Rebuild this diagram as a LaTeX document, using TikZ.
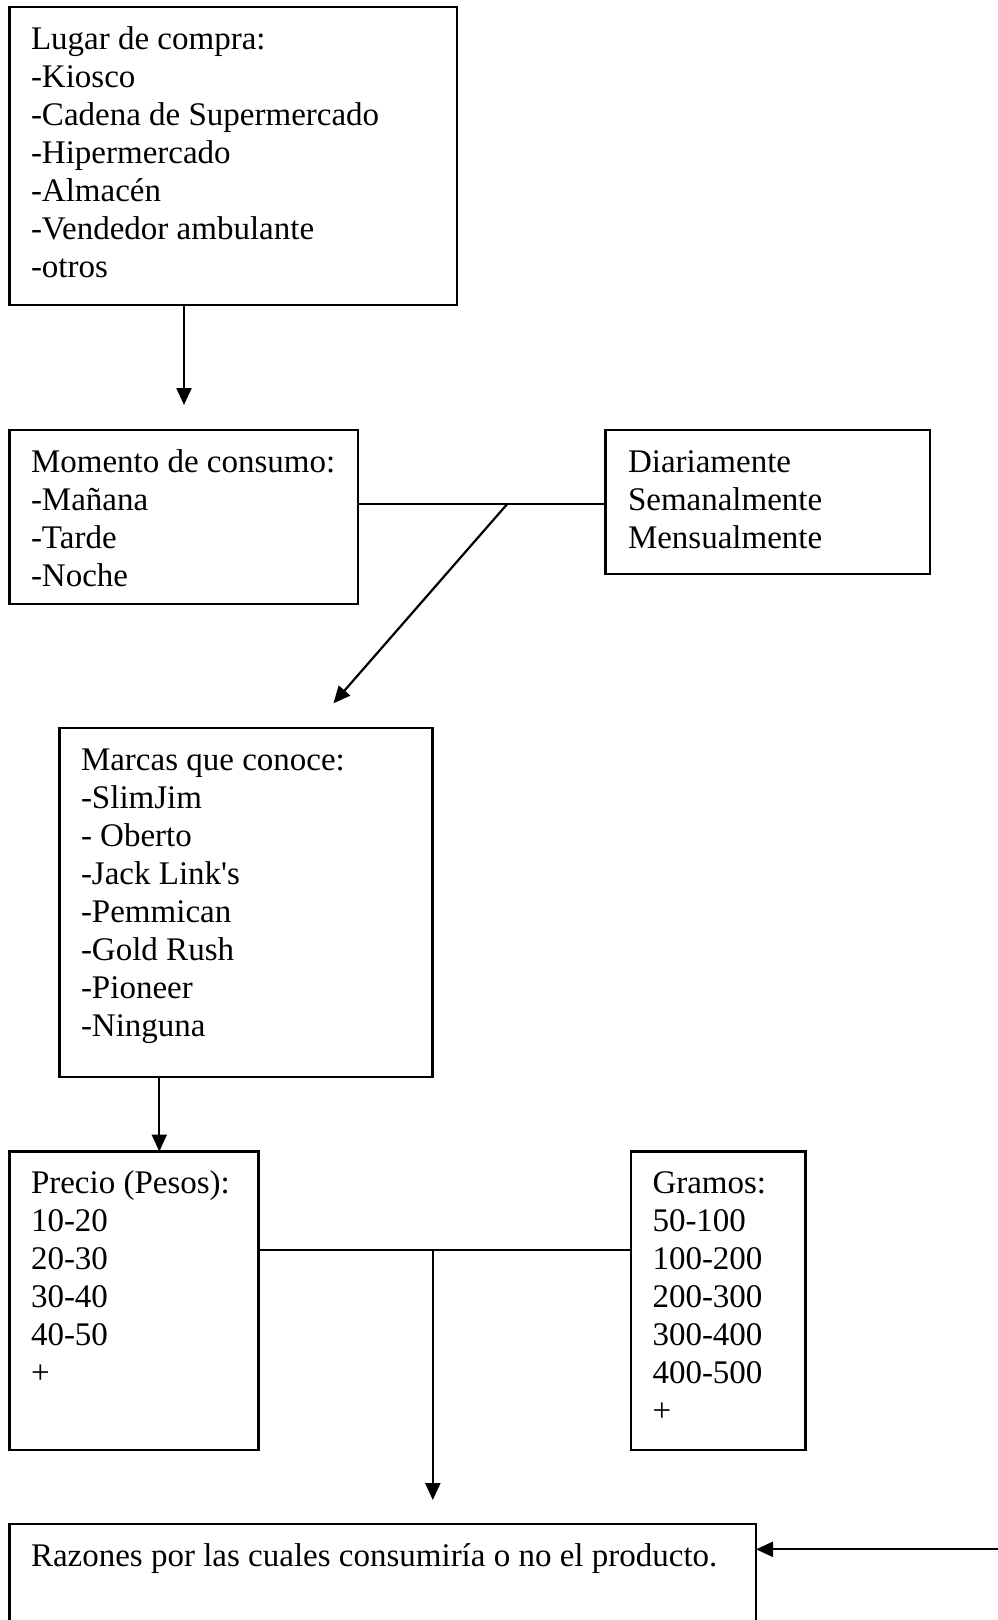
\documentclass[tikz,border=0pt]{standalone}
\usepackage{fontspec}
\setmainfont{Liberation Serif}
\usetikzlibrary{arrows.meta}
\begin{document}
\begin{tikzpicture}[x=1pt,y=-1pt,
  boxnode/.style={draw, line width=2.2pt, rectangle, inner sep=0pt, outer sep=0pt, anchor=north west},
  txt/.style={anchor=base west, inner sep=0pt, outer sep=0pt, font=\fontsize{33}{38}\selectfont},
  conn/.style={line width=2.2pt},
  arr/.style={conn, -{Triangle[length=17pt,width=15pt]}}]
\clip (0,0) rectangle (998,1620);
\fill[white] (0,0) rectangle (998,1620);

% boxes
\node[boxnode, minimum width=447.5pt, minimum height=297.7pt] (b1) at (9.5,7.3) {};
\node[boxnode, minimum width=348.5pt, minimum height=174pt] (b2) at (9.5,430) {};
\node[boxnode, minimum width=324.5pt, minimum height=144.3pt] (b3) at (605.5,430) {};
\node[boxnode, minimum width=373pt, minimum height=348.4pt] (b4) at (59.5,728.3) {};
\node[boxnode, minimum width=249pt, minimum height=298.5pt] (b5) at (9.5,1151.5) {};
\node[boxnode, minimum width=174.5pt, minimum height=298.5pt] (b6) at (631,1151.5) {};
\node[boxnode, minimum width=746.5pt, minimum height=130pt] (b7) at (9.5,1524) {};

% texts
\node[txt] (t1) at (31,49.3) {\parbox[t]{420pt}{Lugar de compra:\\-Kiosco\\-Cadena de Supermercado\\-Hipermercado\\-Almacén\\-Vendedor ambulante\\-otros}};
\node[txt] (t2) at (31,472) {\parbox[t]{320pt}{Momento de consumo:\\-Mañana\\-Tarde\\-Noche}};
\node[txt] (t3) at (628,472) {\parbox[t]{300pt}{Diariamente\\Semanalmente\\Mensualmente}};
\node[txt] (t4) at (81,770.3) {\parbox[t]{340pt}{Marcas que conoce:\\-SlimJim\\- Oberto\\-Jack Link\textquotesingle s\\-Pemmican\\-Gold Rush\\-Pioneer\\-Ninguna}};
\node[txt] (t5) at (31,1193.5) {\parbox[t]{225pt}{Precio (Pesos):\\10-20\\20-30\\30-40\\40-50\\+}};
\node[txt] (t6) at (652.5,1193.5) {\parbox[t]{150pt}{Gramos:\\50-100\\100-200\\200-300\\300-400\\400-500\\+}};
\node[txt] (t7) at (31,1566) {\parbox[t]{720pt}{Razones por las cuales consumiría o no el producto.}};

% connection points
\coordinate (a1) at (184,405);
\coordinate (j1) at (507,504.3);
\coordinate (a2) at (333.4,703.3);
\coordinate (a3) at (159.3,1100);
\coordinate (j2) at (432.8,1250);
\coordinate (a4) at (432.8,1500);
\coordinate (e) at (998,1549.3);

% connectors
\draw[arr] (b1.south -| a1) -- (a1);
\draw[conn] (b2.east |- j1) -- (b3.west |- j1);
\draw[arr] (j1) -- (a2);
\draw[arr] (b4.south -| a3) -- (b5.north -| a3);
\draw[conn] (b5.east |- j2) -- (b6.west |- j2);
\draw[arr] (j2) -- (a4);
\draw[arr] (e) -- (b7.east |- e);
\end{tikzpicture}
\end{document}
